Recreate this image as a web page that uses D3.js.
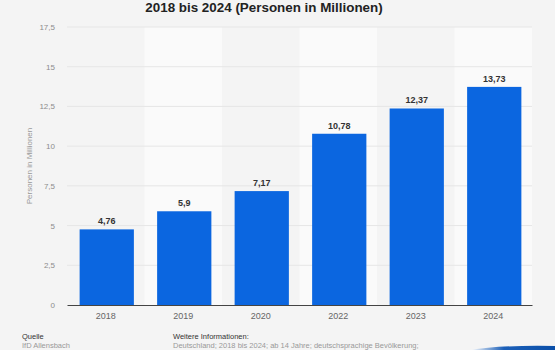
<!DOCTYPE html>
<html>
<head>
<meta charset="utf-8">
<script src="https://cdn.jsdelivr.net/npm/d3@7"></script>
<style>
  body { margin: 0; background: #f4f4f4; }
  svg { display: block; font-family: "Liberation Sans", Arial, sans-serif; }
</style>
</head>
<body>
<div id="chart"></div>
<script>
var years = ["2018", "2019", "2020", "2022", "2023", "2024"];
var persons = [4.76, 5.9, 7.17, 10.78, 12.37, 13.73];
var yTicks = [0, 2.5, 5, 7.5, 10, 12.5, 15, 17.5];

var W = 555, H = 350;
var margin = { top: 27, right: 23, bottom: 45, left: 67 },
  width = W - margin.left - margin.right,
  height = H - margin.top - margin.bottom;

var fmt = function (v) { return String(v).replace(".", ","); };

var root = d3.select("#chart").append("svg")
  .attr("width", W)
  .attr("height", H);

root.append("rect").attr("width", W).attr("height", H).attr("fill", "#f4f4f4");

// title
root.append("text")
  .attr("x", 264)
  .attr("y", 12)
  .attr("text-anchor", "middle")
  .style("font-size", "13.4px")
  .style("font-weight", "bold")
  .style("fill", "#222")
  .text("2018 bis 2024 (Personen in Millionen)");

var svg = root.append("g")
  .attr("transform", "translate(" + margin.left + "," + margin.top + ")");

var x = d3.scaleBand().domain(years).range([0, width]).paddingInner(0).paddingOuter(0);
var y = d3.scaleLinear().domain([0, 17.5]).range([height, 0]);

// alternating column bands
svg.selectAll(".band")
  .data(years.filter(function (d, i) { return i % 2 === 1; }))
  .enter().append("rect")
  .attr("x", function (d) { return x(d); })
  .attr("y", 0)
  .attr("width", x.bandwidth())
  .attr("height", height)
  .attr("fill", "#fafafa");

// gridlines
svg.selectAll(".grid")
  .data(yTicks.slice(1))
  .enter().append("line")
  .attr("x1", 0).attr("x2", width)
  .attr("y1", function (d) { return y(d); })
  .attr("y2", function (d) { return y(d); })
  .attr("stroke", "#e6e6e6")
  .attr("stroke-width", 1);

// y axis labels
var yAxis = d3.axisLeft(y).tickValues(yTicks).tickFormat(fmt).tickSize(0).tickPadding(12);
var gy = svg.append("g").call(yAxis);
gy.select(".domain").remove();
gy.selectAll("text").style("font-size", "8px").style("fill", "#8c8c8c").attr("font-family", null);

// bars
var inner = 0.3;
svg.selectAll(".bar")
  .data(years)
  .enter().append("rect")
  .attr("x", function (d) { return x(d) + x.bandwidth() * inner / 2 + 1; })
  .attr("y", function (d, i) { return y(persons[i]); })
  .attr("width", x.bandwidth() * (1 - inner))
  .attr("height", function (d, i) { return height - y(persons[i]); })
  .attr("fill", "#0b66e0");

// value labels
svg.selectAll(".val")
  .data(years)
  .enter().append("text")
  .attr("x", function (d) { return x(d) + x.bandwidth() / 2 + 1; })
  .attr("y", function (d, i) { return y(persons[i]) - 5; })
  .attr("text-anchor", "middle")
  .style("font-size", "9px")
  .style("font-weight", "bold")
  .style("fill", "#333")
  .text(function (d, i) { return fmt(persons[i]); });

// x axis
var xAxis = d3.axisBottom(x).tickSize(0).tickPadding(8);
var gx = svg.append("g").attr("transform", "translate(0," + height + ")").call(xAxis);
gx.select(".domain").attr("stroke", "#444").attr("stroke-width", 1.2);
gx.selectAll("text").style("font-size", "9px").style("fill", "#666").attr("font-family", null);

// y axis title
root.append("text")
  .attr("transform", "translate(32," + 166 + ") rotate(-90)")
  .attr("text-anchor", "middle")
  .style("font-size", "8px")
  .style("fill", "#999")
  .text("Personen in Millionen");

// footer
root.append("text").attr("x", 22).attr("y", 339)
  .style("font-size", "7.5px").style("fill", "#333").text("Quelle");
root.append("text").attr("x", 22).attr("y", 348)
  .style("font-size", "7.5px").style("fill", "#999").text("IfD Allensbach");
root.append("text").attr("x", 173).attr("y", 339)
  .style("font-size", "7.5px").style("fill", "#333").text("Weitere Informationen:");
root.append("text").attr("x", 173).attr("y", 348)
  .style("font-size", "7.5px").style("fill", "#999")
  .text("Deutschland; 2018 bis 2024; ab 14 Jahre; deutschsprachige Bevölkerung;");

// decorative swoosh bottom right
var grad = root.append("defs").append("linearGradient").attr("id", "sw")
  .attr("x1", "0").attr("x2", "1");
grad.append("stop").attr("offset", "0").attr("stop-color", "#ffffff");
grad.append("stop").attr("offset", "0.4").attr("stop-color", "#1b5fb8");
grad.append("stop").attr("offset", "1").attr("stop-color", "#0a4fa8");
root.append("path")
  .attr("d", "M470,350 Q500,345 555,346 L555,350 Z")
  .attr("fill", "url(#sw)");
</script>
</body>
</html>
